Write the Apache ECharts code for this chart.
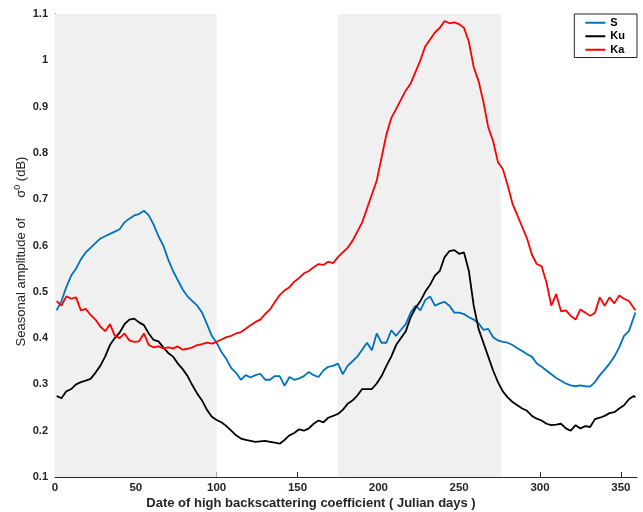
<!DOCTYPE html>
<html>
<head>
<meta charset="utf-8">
<script src="https://cdn.jsdelivr.net/npm/echarts@6/dist/echarts.min.js"></script>
<style>html,body{margin:0;padding:0;background:#fff;}#c{width:643px;height:512px;}</style>
</head>
<body>
<div id="c"></div>
<script>
const days = [1,4,7,10,13,16,19,22,25,28,31,34,37,40,43,46,49,52,55,58,61,64,67,70,73,76,79,82,85,88,91,94,97,100,103,106,109,112,115,118,121,124,127,130,133,136,139,142,145,148,151,154,157,160,163,166,169,172,175,178,181,184,187,190,193,196,199,202,205,208,211,214,217,220,223,226,229,232,235,238,241,244,247,250,253,256,259,262,265,268,271,274,277,280,283,286,289,292,295,298,301,304,307,310,313,316,319,322,325,328,331,334,337,340,343,346,349,352,355,358,359];

const sValues = [0.46,0.48,0.51,0.535,0.55,0.57,0.585,0.595,0.605,0.615,0.62,0.625,0.63,0.635,0.65,0.658,0.665,0.668,0.675,0.665,0.645,0.62,0.6,0.57,0.545,0.525,0.505,0.49,0.48,0.47,0.455,0.43,0.405,0.39,0.37,0.355,0.335,0.325,0.31,0.32,0.315,0.32,0.323,0.31,0.31,0.318,0.318,0.297,0.316,0.31,0.313,0.318,0.327,0.32,0.316,0.33,0.338,0.34,0.345,0.322,0.34,0.35,0.36,0.375,0.39,0.374,0.41,0.39,0.39,0.417,0.405,0.418,0.43,0.455,0.47,0.46,0.482,0.49,0.47,0.475,0.478,0.47,0.455,0.455,0.452,0.445,0.44,0.432,0.418,0.42,0.402,0.395,0.392,0.39,0.385,0.378,0.372,0.365,0.36,0.345,0.338,0.33,0.322,0.314,0.308,0.302,0.298,0.296,0.298,0.296,0.295,0.305,0.32,0.332,0.345,0.36,0.38,0.405,0.415,0.445,0.455];

const kuValues = [0.275,0.27,0.285,0.29,0.3,0.305,0.308,0.312,0.325,0.34,0.36,0.385,0.4,0.412,0.43,0.44,0.442,0.434,0.428,0.41,0.396,0.393,0.38,0.368,0.36,0.345,0.333,0.318,0.298,0.28,0.265,0.245,0.23,0.223,0.218,0.21,0.2,0.19,0.183,0.18,0.178,0.176,0.177,0.178,0.176,0.174,0.172,0.18,0.19,0.195,0.203,0.2,0.205,0.215,0.222,0.218,0.228,0.232,0.236,0.245,0.258,0.265,0.276,0.29,0.29,0.29,0.302,0.318,0.34,0.36,0.385,0.4,0.415,0.445,0.465,0.48,0.5,0.515,0.535,0.545,0.575,0.588,0.59,0.582,0.585,0.545,0.47,0.42,0.39,0.36,0.33,0.305,0.285,0.272,0.262,0.255,0.248,0.243,0.232,0.226,0.222,0.215,0.212,0.213,0.215,0.205,0.2,0.212,0.205,0.21,0.208,0.225,0.228,0.232,0.238,0.24,0.248,0.255,0.268,0.275,0.272];

const kaValues = [0.48,0.47,0.49,0.485,0.488,0.46,0.463,0.45,0.44,0.425,0.415,0.43,0.405,0.4,0.41,0.395,0.392,0.393,0.41,0.385,0.38,0.382,0.378,0.38,0.378,0.382,0.375,0.377,0.38,0.385,0.387,0.39,0.388,0.392,0.397,0.402,0.405,0.41,0.413,0.42,0.428,0.435,0.44,0.452,0.462,0.478,0.493,0.503,0.51,0.522,0.53,0.54,0.545,0.553,0.56,0.558,0.565,0.562,0.575,0.585,0.595,0.61,0.63,0.65,0.68,0.71,0.74,0.79,0.84,0.875,0.895,0.915,0.935,0.95,0.975,1.0,1.03,1.045,1.06,1.07,1.085,1.08,1.082,1.078,1.07,1.04,0.985,0.955,0.91,0.855,0.825,0.78,0.765,0.73,0.69,0.665,0.64,0.615,0.58,0.56,0.555,0.52,0.47,0.495,0.458,0.46,0.448,0.44,0.462,0.455,0.448,0.455,0.488,0.47,0.488,0.475,0.492,0.485,0.48,0.465,0.46];

const seriesNames = ['S', 'Ku', 'Ka'];
const shadedPeriods = [[0, 100], [175, 276]];
const xTicks = [0, 50, 100, 150, 200, 250, 300, 350];

const pair = vals => days.map((d, i) => [d, vals[i]]);
const colors = ['#0072BD', '#000000', '#FF0000'];
const font = '"Liberation Sans", Arial, Helvetica, sans-serif';

const chart = echarts.init(document.getElementById('c'), null, {renderer: 'canvas'});
chart.setOption({
  animation: false,
  backgroundColor: '#ffffff',
  grid: {left: 55, right: 6, top: 14, bottom: 35, containLabel: false, outerBoundsMode: 'none'},
  legend: {
    data: seriesNames,
    orient: 'vertical',
    right: 6,
    top: 14,
    padding: [2, 12, 1, 11],
    itemGap: 0,
    itemWidth: 20,
    itemHeight: 2,
    itemTextGap: 2,
    icon: 'rect',
    backgroundColor: '#ffffff',
    borderColor: '#262626',
    borderWidth: 1,
    borderRadius: 0,
    textStyle: {fontFamily: font, fontSize: 11, fontWeight: 'bold', color: '#000', lineHeight: 13.5}
  },
  xAxis: {
    type: 'value',
    min: 0, max: 360,
    interval: 50,
    name: 'Date of high backscattering coefficient ( Julian days )',
    nameLocation: 'middle',
    nameGap: 20,
    nameMoveOverlap: false,
    nameTextStyle: {fontFamily: font, fontSize: 13, fontWeight: 'bold', color: '#262626', verticalAlign: 'top', padding: [0, 70, 0, 0]},
    axisLine: {show: true, lineStyle: {color: '#262626', width: 1}},
    axisTick: {show: true, inside: true, length: 5, lineStyle: {color: '#262626'}, customValues: xTicks},
    axisLabel: {fontFamily: font, fontSize: 11.5, fontWeight: 'bold', color: '#262626', margin: 5, customValues: xTicks},
    splitLine: {show: false}
  },
  yAxis: {
    type: 'value',
    min: 0.1, max: 1.1,
    interval: 0.1,
    name: '{a|Seasonal amplitude of}{g|}{s|σ}{sup|0}{a| (dB)}',
    nameLocation: 'middle',
    nameGap: 26,
    nameMoveOverlap: false,
    nameRotate: 90,
    nameTextStyle: {
      fontFamily: font, color: '#262626', padding: [0, 12, 0, 0],
      rich: {
        a: {fontFamily: font, fontSize: 13, color: '#262626'},
        g: {width: 20},
        s: {fontFamily: font, fontSize: 13, color: '#262626'},
        sup: {fontFamily: font, fontSize: 9, color: '#262626', verticalAlign: 'top', padding: [0, 0, 7, 0]}
      }
    },
    axisLine: {show: true, lineStyle: {color: '#262626', width: 1}},
    axisTick: {show: true, inside: true, length: 5, lineStyle: {color: '#262626'}},
    axisLabel: {fontFamily: font, fontSize: 11, fontWeight: 'bold', color: '#262626', margin: 7,
      formatter: v => String(+v.toFixed(1))},
    splitLine: {show: false}
  },
  series: [
    {
      type: 'line', name: '_shade', data: [], z: 1, silent: true,
      markArea: {
        silent: true,
        itemStyle: {color: '#f0f0f0'},
        data: shadedPeriods.map(p => [{xAxis: p[0]}, {xAxis: p[1]}])
      }
    },
    ...seriesNames.map((n, i) => ({
      type: 'line', name: n, z: 3 + i,
      data: pair([sValues, kuValues, kaValues][i]),
      showSymbol: false, symbol: 'none',
      lineStyle: {color: colors[i], width: 1.8},
      itemStyle: {color: colors[i]}
    }))
  ]
});
</script>
</body>
</html>
